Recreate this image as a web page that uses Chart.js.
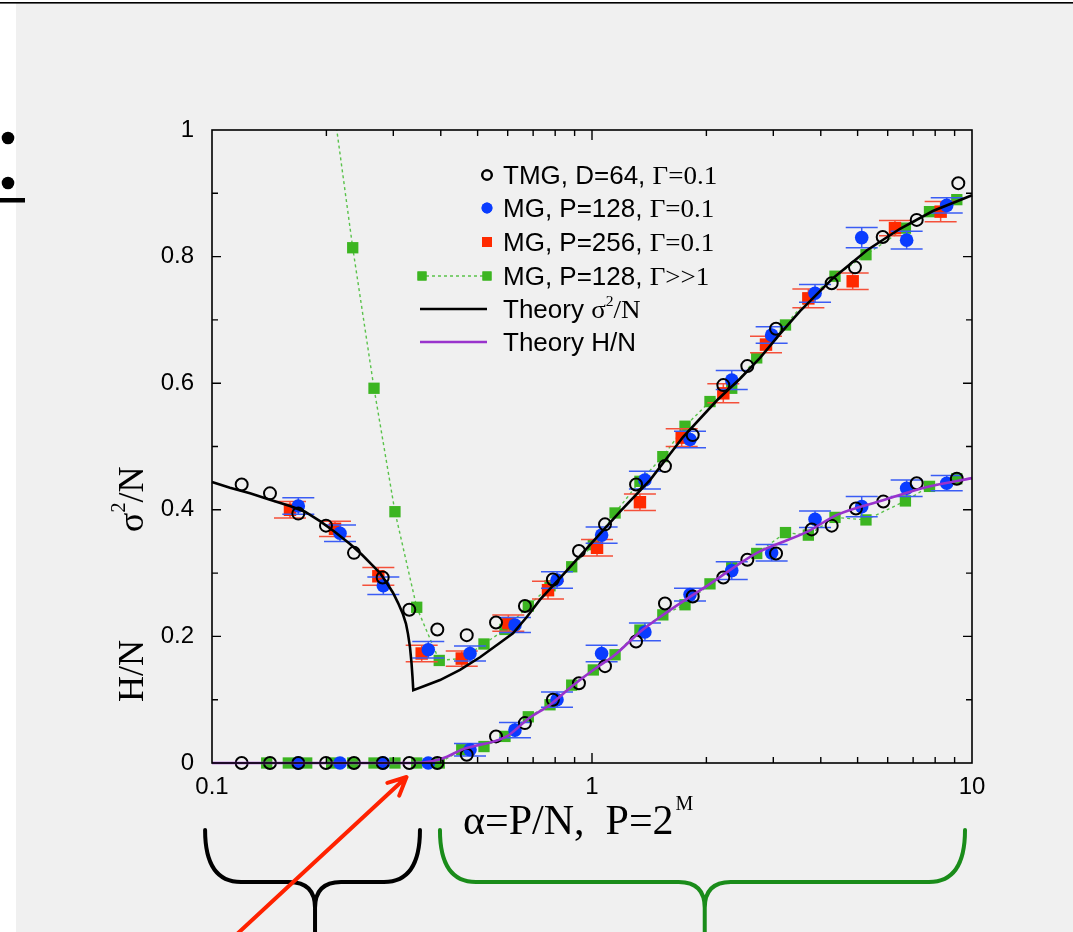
<!DOCTYPE html>
<html><head><meta charset="utf-8">
<script src="https://cdn.jsdelivr.net/npm/chart.js@4.4.0/dist/chart.umd.min.js"></script>
<style>html,body{margin:0;padding:0;background:#f0f0f0;overflow:hidden}#wrap{width:1073px;height:932px;position:relative}</style>
</head><body><div id="wrap"><canvas id="c" width="1073" height="932"></canvas></div>
<script>
// ---------- data ----------
const xTicks = [0.1, 1, 10];
const yTicks = [0, 0.2, 0.4, 0.6, 0.8, 1];

const thSigAlpha = [0.1, 0.1115, 0.1259, 0.1421, 0.1604, 0.1757, 0.1924, 0.2107, 0.2308, 0.2482, 0.2637, 0.2768, 0.2888, 0.2994, 0.3087, 0.3181, 0.3240, 0.3279, 0.3319, 0.3350, 0.3370, 0.3386,
  0.3636, 0.3981, 0.4494, 0.5073, 0.5727, 0.6195, 0.6745, 0.7298, 0.8238, 1.0, 1.1849, 1.421, 1.736, 2.133, 2.4515, 2.768, 3.1244, 3.527, 4.307, 5.293, 6.465, 7.89, 10];
const thSig = [0.444, 0.435, 0.426, 0.416, 0.406, 0.397, 0.382, 0.365, 0.346, 0.329, 0.313, 0.300, 0.284, 0.269, 0.253, 0.235, 0.220, 0.204, 0.183, 0.158, 0.136, 0.115,
  0.122, 0.131, 0.147, 0.167, 0.190, 0.205, 0.231, 0.258, 0.292, 0.348, 0.397, 0.447, 0.515, 0.573, 0.607, 0.640, 0.678, 0.714, 0.766, 0.810, 0.844, 0.872, 0.897];

const thHAlpha = [0.1, 0.338, 0.3816, 0.4154, 0.454, 0.5963, 0.680, 0.7755, 0.884, 1.008, 1.150, 1.337, 1.538, 2.044, 2.718, 3.679, 4.413, 5.833, 7.61, 10];
const thH = [0, 0, 0.003, 0.010, 0.021, 0.042, 0.070, 0.092, 0.121, 0.147, 0.171, 0.207, 0.234, 0.283, 0.332, 0.365, 0.392, 0.415, 0.436, 0.450];

const tmgUpperAlpha = [0.1197, 0.1421, 0.1687, 0.1995, 0.2364, 0.2813, 0.3305, 0.3917, 0.4681, 0.559, 0.666, 0.789, 0.924, 1.082, 1.306, 1.556, 1.841, 2.216, 2.563, 3.05, 4.273, 4.921, 5.821, 7.153, 9.203];
const tmgUpper = [0.440, 0.426, 0.394, 0.375, 0.332, 0.293, 0.242, 0.211, 0.202, 0.222, 0.248, 0.290, 0.335, 0.377, 0.440, 0.469, 0.518, 0.597, 0.627, 0.686, 0.758, 0.783, 0.831, 0.858, 0.916];
const tmgLowerAlpha = [0.1197, 0.1421, 0.1687, 0.1995, 0.2364, 0.2813, 0.3305, 0.3917, 0.4681, 0.559, 0.666, 0.789, 0.924, 1.082, 1.306, 1.556, 1.841, 2.216, 2.563, 3.05, 3.786, 4.273, 4.95, 5.843, 7.153, 9.12];
const tmgLower = [0, 0, 0, 0, 0, 0, 0, 0, 0.013, 0.042, 0.063, 0.100, 0.126, 0.153, 0.192, 0.252, 0.263, 0.293, 0.321, 0.331, 0.369, 0.375, 0.402, 0.413, 0.442, 0.449];

const blueAlpha = [0.1687, 0.2172, 0.2824, 0.3708, 0.4775, 0.627, 0.809, 1.06, 1.378, 1.811, 2.332, 2.97, 3.863, 5.126, 6.73, 8.58];
const blueUpper = [0.406, 0.363, 0.280, 0.179, 0.173, 0.218, 0.289, 0.360, 0.447, 0.511, 0.605, 0.676, 0.742, 0.830, 0.826, 0.881];
const blueUpperErr = [0.013, 0.013, 0.014, 0.013, 0.012, 0.012, 0.013, 0.013, 0.014, 0.013, 0.015, 0.013, 0.014, 0.016, 0.014, 0.012];
const blueLower = [0, 0, 0, 0, 0.021, 0.052, 0.100, 0.173, 0.207, 0.266, 0.304, 0.332, 0.385, 0.405, 0.434, 0.442];
const blueLowerErr = [null, null, null, null, 0.010, 0.012, 0.012, 0.013, 0.014, 0.010, 0.014, 0.013, 0.013, 0.016, 0.013, 0.012];

const redAlpha = [0.1604, 0.2107, 0.274, 0.3563, 0.4542, 0.6022, 0.766, 1.031, 1.337, 1.722, 2.216, 2.87, 3.71, 4.853, 6.27, 8.27];
const redUpper = [0.400, 0.370, 0.295, 0.173, 0.165, 0.221, 0.273, 0.340, 0.412, 0.514, 0.584, 0.661, 0.734, 0.761, 0.845, 0.871];
const redUpperErr = [0.013, 0.012, 0.014, 0.013, 0.012, 0.013, 0.014, 0.013, 0.013, 0.014, 0.015, 0.013, 0.015, 0.013, 0.012, 0.016];

const greenAlpha = [0.1393, 0.1588, 0.1775, 0.2065, 0.2346, 0.2669, 0.303, 0.3457, 0.3963, 0.4542, 0.5197, 0.5902, 0.6798, 0.7753, 0.8844, 1.008, 1.15, 1.337, 1.536, 1.757, 2.044, 2.332, 2.713, 3.23, 3.71, 4.36, 5.26, 6.68, 7.73, 9.12];
const greenUpper = [null, null, null, 1.06, 0.814, 0.592, 0.397, 0.246, 0.162, 0.165, 0.188, 0.211, 0.248, 0.280, 0.310, 0.345, 0.395, 0.445, 0.484, 0.532, 0.571, 0.592, 0.640, 0.692, 0.734, 0.769, 0.803, 0.845, 0.871, 0.890];
const greenLower = [0, 0, 0, 0, 0, 0, 0, 0, 0, 0.021, 0.026, 0.042, 0.073, 0.092, 0.123, 0.147, 0.171, 0.210, 0.234, 0.250, 0.283, 0.309, 0.331, 0.364, 0.360, 0.388, 0.384, 0.414, 0.437, 0.449];

// ---------- styles ----------
const C = {
  blue: '#0a3cff', blueErr: '#3a5cf4',
  red: '#ff2a00', redErr: '#f4503a',
  green: '#3cb521', greenLine: '#59c24a',
  purple: '#9933cc', black: '#000000'
};
const SANS = '"Liberation Sans", Arial, sans-serif';
const SERIF = '"Liberation Serif", "Times New Roman", serif';

const pts = (xs, ys) => xs.map((x, i) => ({x: x, y: ys[i]}));

const datasets = [
  {label: 'Theory σ²/N', data: pts(thSigAlpha, thSig), showLine: true, borderColor: C.black, borderWidth: 2.6,
   pointRadius: 0, tension: 0, clip: 2},
  {label: 'Theory H/N', data: pts(thHAlpha, thH), showLine: true, borderColor: C.purple, borderWidth: 2.6,
   pointRadius: 0, cubicInterpolationMode: 'monotone', clip: 3},
  {label: 'TMG, D=64, Γ=0.1', data: pts(tmgUpperAlpha, tmgUpper), showLine: false, pointStyle: 'circle',
   pointRadius: 6, pointBorderWidth: 2, pointBorderColor: C.black, pointBackgroundColor: 'rgba(0,0,0,0)', clip: false},
  {label: 'TMG lower', data: pts(tmgLowerAlpha, tmgLower), showLine: false, pointStyle: 'circle',
   pointRadius: 6, pointBorderWidth: 2, pointBorderColor: C.black, pointBackgroundColor: 'rgba(0,0,0,0)', clip: false},
  {label: 'MG, P=128, Γ=0.1', data: pts(blueAlpha, blueUpper), errors: blueUpperErr, errorColor: C.blueErr,
   showLine: false, pointStyle: 'circle', pointRadius: 6.8, pointBorderWidth: 0, pointBackgroundColor: C.blue, clip: false},
  {label: 'MG lower', data: pts(blueAlpha, blueLower), errors: blueLowerErr, errorColor: C.blueErr,
   showLine: false, pointStyle: 'circle', pointRadius: 6.8, pointBorderWidth: 0, pointBackgroundColor: C.blue, clip: false},
  {label: 'MG, P=256, Γ=0.1', data: pts(redAlpha, redUpper), errors: redUpperErr, errorColor: C.redErr,
   showLine: false, pointStyle: 'rect', pointRadius: 8.8, pointBorderWidth: 0, pointBackgroundColor: C.red, clip: false},
  {label: 'MG, P=128, Γ>>1', data: pts(greenAlpha, greenUpper), showLine: true, spanGaps: false,
   borderColor: C.greenLine, borderWidth: 1.4, borderDash: [3, 3], pointStyle: 'rect', pointRadius: 8,
   pointBorderWidth: 0, pointBackgroundColor: C.green, clip: {left: 12, top: 0, right: 12, bottom: 12}},
  {label: 'Γ>>1 lower', data: pts(greenAlpha, greenLower), showLine: true,
   borderColor: C.greenLine, borderWidth: 1.4, borderDash: [3, 3], pointStyle: 'rect', pointRadius: 8,
   pointBorderWidth: 0, pointBackgroundColor: C.green, clip: false}
];

// ---------- plugins ----------
const background = {
  id: 'background',
  beforeDraw(chart) {
    const ctx = chart.ctx;
    ctx.save();
    ctx.fillStyle = '#f0f0f0'; ctx.fillRect(0, 0, chart.width, chart.height);
    ctx.fillStyle = '#ffffff'; ctx.fillRect(0, 0, 16, chart.height); ctx.fillRect(0, 0, chart.width, 2);
    ctx.fillStyle = '#000000'; ctx.fillRect(0, 2, chart.width, 1.6);
    ctx.beginPath(); ctx.arc(8, 138, 6.3, 0, Math.PI * 2); ctx.fill();
    ctx.beginPath(); ctx.arc(8, 183, 6.3, 0, Math.PI * 2); ctx.fill();
    ctx.fillRect(0, 198, 25, 4.5);
    ctx.restore();
  }
};

const errorBars = {
  id: 'errorBars',
  beforeDatasetDraw(chart, args) {
    const ds = chart.data.datasets[args.index];
    if (!ds.errors) return;
    const xs = chart.scales.x, ys = chart.scales.y, ctx = chart.ctx;
    ctx.save();
    ctx.strokeStyle = ds.errorColor; ctx.lineWidth = 1.5;
    ds.data.forEach((p, i) => {
      const e = ds.errors[i];
      if (e == null) return;
      const px = xs.getPixelForValue(p.x);
      const yt = ys.getPixelForValue(p.y + e), yb = ys.getPixelForValue(p.y - e);
      const hw = 16;
      ctx.beginPath();
      ctx.moveTo(px, yt); ctx.lineTo(px, yb);
      ctx.moveTo(px - hw, yt); ctx.lineTo(px + hw, yt);
      ctx.moveTo(px - hw, yb); ctx.lineTo(px + hw, yb);
      ctx.stroke();
    });
    ctx.restore();
  }
};

function drawRuns(ctx, x, y, runs) {
  let cx = x;
  for (const r of runs) {
    ctx.font = r.font;
    ctx.fillText(r.t, cx + (r.dx || 0), y + (r.dy || 0));
    cx += ctx.measureText(r.t).width + (r.dx || 0) + (r.after || 0);
  }
}

const frame = {
  id: 'frame',
  afterDraw(chart) {
    const ctx = chart.ctx, a = chart.chartArea, xs = chart.scales.x, ys = chart.scales.y;
    ctx.save();
    ctx.strokeStyle = '#000'; ctx.lineWidth = 1.6;
    ctx.strokeRect(a.left, a.top, a.right - a.left, a.bottom - a.top);
    ctx.lineWidth = 1.4;
    ctx.beginPath();
    for (let k = 1; k < 10; k++) {
      const v = k / 10, py = ys.getPixelForValue(v), L = (k % 2 === 0) ? 9 : 6;
      ctx.moveTo(a.left, py); ctx.lineTo(a.left + L, py);
      ctx.moveTo(a.right, py); ctx.lineTo(a.right - L, py);
    }
    for (const dec of [0.1, 1]) {
      for (let m = 1; m <= 9; m++) {
        const v = dec * m;
        if (v <= 0.1 || v >= 10) continue;
        const px = xs.getPixelForValue(v), L = (m === 1) ? 10 : 6;
        ctx.moveTo(px, a.bottom); ctx.lineTo(px, a.bottom - L);
        ctx.moveTo(px, a.top); ctx.lineTo(px, a.top + L);
      }
    }
    ctx.stroke();

    // legend
    const byLabel = l => chart.data.datasets.find(d => d.label === l);
    const lx = 487, tx = 503, rows = [175, 208, 242, 276, 309, 342];
    const sansF = '25px ' + SANS, serF = '26px ' + SERIF;
    ctx.fillStyle = '#000';
    ctx.textBaseline = 'alphabetic';
    const entries = [
      {ds: 'TMG, D=64, Γ=0.1', runs: [{t: 'TMG, D=64, ', font: sansF}, {t: 'Γ=0.1', font: serF}]},
      {ds: 'MG, P=128, Γ=0.1', runs: [{t: 'MG, P=128, ', font: sansF}, {t: 'Γ=0.1', font: serF}]},
      {ds: 'MG, P=256, Γ=0.1', runs: [{t: 'MG, P=256, ', font: sansF}, {t: 'Γ=0.1', font: serF}]},
      {ds: 'MG, P=128, Γ>>1', runs: [{t: 'MG, P=128, ', font: sansF}, {t: 'Γ>>1', font: serF}]},
      {ds: 'Theory σ²/N', runs: [{t: 'Theory ', font: sansF}, {t: 'σ', font: serF}, {t: '2', font: '15px ' + SERIF, dy: -12}, {t: '/N', font: serF}]},
      {ds: 'Theory H/N', runs: [{t: 'Theory H/N', font: sansF}]}
    ];
    entries.forEach((e, i) => {
      const d = byLabel(e.ds), y = rows[i];
      ctx.save();
      if (d.showLine) {
        ctx.strokeStyle = d.borderColor; ctx.lineWidth = d.borderWidth;
        ctx.setLineDash(d.borderDash || []);
        ctx.beginPath(); ctx.moveTo(420, y); ctx.lineTo(lx, y); ctx.stroke();
        ctx.setLineDash([]);
      }
      if (d.pointRadius > 0) {
        const st = {pointStyle: d.pointStyle, radius: d.pointRadius * 0.8, borderWidth: d.pointBorderWidth || 0, rotation: 0};
        ctx.fillStyle = d.pointBackgroundColor; ctx.strokeStyle = d.pointBorderColor || d.pointBackgroundColor;
        ctx.lineWidth = d.pointBorderWidth || 0;
        const xsPts = d.showLine ? [422, lx] : [lx];
        xsPts.forEach(px => {
          Chart.helpers.drawPoint(ctx, st, px, y);
          ctx.fill();
          if (st.borderWidth) ctx.stroke();
        });
      }
      ctx.restore();
      ctx.save();
      ctx.fillStyle = '#000';
      ctx.translate(tx, y + 8.5); ctx.scale(1.04, 1);
      drawRuns(ctx, 0, 0, e.runs);
      ctx.restore();
    });

    // axis titles
    drawRuns(ctx, 463, 834, [{t: 'α=P/N,  P=2', font: '42px ' + SERIF}, {t: 'M', font: '20px ' + SERIF, dy: -24, dx: 2}]);
    ctx.save();
    ctx.translate(143, 0); ctx.rotate(-Math.PI / 2);
    drawRuns(ctx, -702, 0, [{t: 'H/N', font: '36px ' + SERIF}]);
    drawRuns(ctx, -532, 0, [{t: 'σ', font: '36px ' + SERIF}, {t: '2', font: '20px ' + SERIF, dy: -18}, {t: '/N', font: '36px ' + SERIF}]);
    ctx.restore();

    // braces and arrow (annotations below the axis)
    const brace = (xl, xc, xr, col) => {
      const yT = 830, yM = 882, r = 36, r2 = 26;
      ctx.save(); ctx.strokeStyle = col; ctx.lineWidth = 4; ctx.lineCap = 'round';
      ctx.beginPath();
      ctx.moveTo(xl, yT); ctx.quadraticCurveTo(xl, yM, xl + r, yM);
      ctx.lineTo(xc - r2, yM); ctx.quadraticCurveTo(xc, yM, xc, yM + r2); ctx.lineTo(xc, 940);
      ctx.moveTo(xc, yM + r2); ctx.quadraticCurveTo(xc, yM, xc + r2, yM);
      ctx.lineTo(xr - r, yM); ctx.quadraticCurveTo(xr, yM, xr, yT);
      ctx.stroke(); ctx.restore();
    };
    brace(xs.getPixelForValue(0.0959), xs.getPixelForValue(0.1867), xs.getPixelForValue(0.3526), '#000000');
    brace(xs.getPixelForValue(0.398), xs.getPixelForValue(1.98), xs.getPixelForValue(9.585), '#1a8c1a');

    ctx.save();
    ctx.strokeStyle = '#ff2200'; ctx.lineWidth = 4; ctx.lineCap = 'round'; ctx.lineJoin = 'round';
    const tipX = xs.getPixelForValue(0.325), tipY = a.bottom + 14, sx = 236, sy = 935;
    const ang = Math.atan2(tipY - sy, tipX - sx), hl = 20;
    ctx.beginPath(); ctx.moveTo(sx, sy); ctx.lineTo(tipX, tipY);
    ctx.moveTo(tipX - hl * Math.cos(ang - 0.45), tipY - hl * Math.sin(ang - 0.45));
    ctx.lineTo(tipX, tipY);
    ctx.lineTo(tipX - hl * Math.cos(ang + 0.45), tipY - hl * Math.sin(ang + 0.45));
    ctx.stroke(); ctx.restore();
    ctx.restore();
  }
};

Chart.defaults.font.family = SANS;
Chart.defaults.color = '#000';

new Chart(document.getElementById('c'), {
  type: 'scatter',
  data: {datasets: datasets},
  options: {
    responsive: false, animation: false, devicePixelRatio: 1,
    layout: {padding: {left: 0, right: 101, top: 130, bottom: 0}},
    plugins: {legend: {display: false}, tooltip: {enabled: false}},
    scales: {
      x: {
        type: 'logarithmic', min: 0.1, max: 10,
        grid: {display: false, drawTicks: false}, border: {display: false},
        afterBuildTicks: s => { s.ticks = xTicks.map(v => ({value: v, major: true})); },
        afterFit: s => { s.height = 169; },
        ticks: {autoSkip: false, maxRotation: 0, padding: 10, font: {size: 24}, color: '#000',
          callback: v => String(v)}
      },
      y: {
        type: 'linear', min: 0, max: 1,
        grid: {display: false, drawTicks: false}, border: {display: false},
        afterBuildTicks: s => { s.ticks = yTicks.map(v => ({value: v})); },
        afterFit: s => { s.width = 212; },
        ticks: {padding: 18, font: {size: 24}, color: '#000',
          callback: v => (v === 0 ? '0' : v === 1 ? '1' : v.toFixed(1))}
      }
    }
  },
  plugins: [background, errorBars, frame]
});
</script>
</body></html>
